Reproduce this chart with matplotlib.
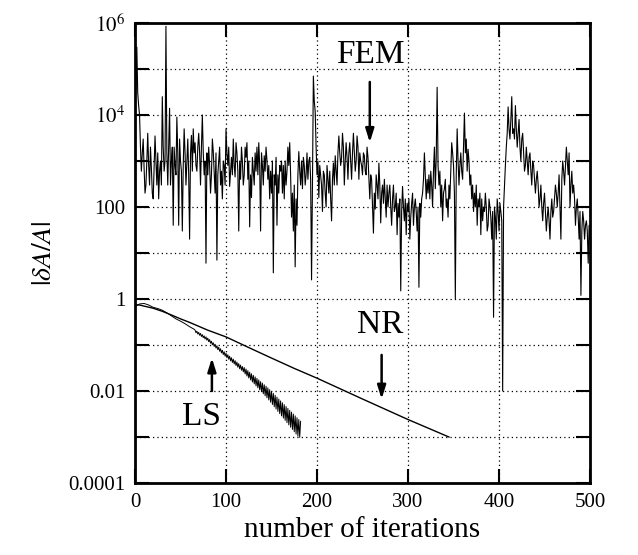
import matplotlib
matplotlib.use("Agg")
import matplotlib.pyplot as plt
from matplotlib.ticker import NullLocator
import numpy as np

plt.rcParams['font.family'] = ['Liberation Serif', 'DejaVu Serif']
plt.rcParams['mathtext.fontset'] = 'stix'

# FEM: |dA/A| at every iteration (0..500)
fem_iter = np.arange(0, 501)
fem_val = [
    2e4, 4e4, 3e5, 3e4, 1.6e4, 1e4, 2e3, 6e2, 1.5e3, 3e3, 7e2, 2e2, 3e2, 1e3, 4e3, 8e2, 3e2, 2e3, 7e2, 2e2,              # 0
    1.5e2, 8e2, 3.5e3, 1e3, 3e2, 1.5e3, 1.5e2, 6e2, 1e3, 3e2, 2.5e4, 2e3, 6e2, 1e3, 8.5e5, 1.5e3, 3e2, 2e3, 1.4e4, 3e2,  # 20
    1e3, 2e3, 4e1, 2e3, 8e2, 5e2, 9e3, 1.5e3, 4e1, 3e3, 1e3, 6e2, 3e1, 8e2, 5e3, 1.5e3, 3e2, 1e3, 3e3, 5e2,              # 40
    2e1, 1.5e3, 3.6e3, 6e2, 5e3, 1.5e3, 2.5e3, 8e2, 6e2, 2e3, 4e3, 1.5e3, 3e2, 2e3, 1e4, 1.5e3, 5e2, 1e3, 6, 1.5e3,      # 60
    5e2, 2e3, 8e2, 2e2, 5e2, 3e3, 1.6e3, 6e2, 2e2, 1.5e3, 7, 5e2, 1e3, 2e3, 3e2, 6e2, 1.5e2, 1e3, 8e2, 3e2,              # 80
    5e3, 1.5e3, 8e2, 2e3, 2.8e2, 6e2, 1.2e3, 5e2, 3e3, 8e2, 4.5e2, 2.5e3, 1.5e3, 6e2, 3e1, 1e3, 4e2, 2e3, 1e3, 3e2,      # 100
    5e2, 2e3, 1.2e3, 2.5e3, 4e2, 1e3, 3.7e1, 5e2, 1.6e2, 1.2e3, 6e2, 3e2, 1.5e3, 6e2, 2e3, 5e2, 2.5e3, 8e2, 3e1, 1.5e3,  # 120
    8e2, 3e2, 1.3e3, 6e2, 2e3, 1e3, 4e2, 8e2, 1.5e2, 6e2, 2e2, 1e3, 3.7, 5e2, 3e2, 1.2e3, 4e1, 5e2, 2e2, 8e2,            # 140
    6e2, 1e3, 2e2, 8e2, 1.5e2, 1e3, 3e2, 6e2, 2e3, 8e2, 2.5e3, 5e2, 6e1, 2e2, 3e1, 3e2, 5, 1.5e2, 4e1, 5e2,              # 160
    1.6e3, 6e2, 3e2, 1e3, 2.5e2, 1.2e3, 8e2, 3e2, 5e2, 1.5e3, 4e2, 1e3, 1.2e3, 4e2, 2.6, 3e2, 7e4, 2e4, 1.2e4, 2e3,      # 180
    5e2, 1e3, 1.6e2, 8e2, 5e2, 3e2, 8e1, 6e2, 5e2, 2e2, 1e2, 8e2, 4e2, 2e2, 6e2, 1.5e2, 5e1, 4e2, 9e2, 3e2,              # 200
    1.3e3, 6e2, 3e2, 1.5e3, 3.5e3, 1.5e3, 8e2, 1.2e3, 4e3, 2e3, 3e2, 1e3, 2.5e3, 1.2e3, 4e2, 1.5e3, 2.5e3, 1e3, 4e2, 1.5e3,  # 220
    4e3, 1.5e3, 6e2, 1e3, 3.5e3, 2e3, 4e2, 1.5e3, 1e3, 8e2, 5e2, 1.5e3, 1.3e3, 6e2, 5e2, 2e3, 1.2e3, 4e2, 1.5e2, 5e2,    # 240
    4e2, 1e2, 2.7e1, 2e2, 9e1, 5e2, 3e2, 1.5e2, 9e2, 3e2, 4.5e1, 2e2, 3e2, 1.2e2, 4e2, 1.5e2, 6e1, 3e2, 1e2, 2e2,        # 260
    3e2, 1e2, 4e1, 1.5e2, 3e2, 8e1, 1e2, 2e2, 2.5e1, 1.2e2, 6e1, 1.5e2, 1.5, 8e1, 2.8e2, 1e2, 5e1, 1.5e2, 2.5e1, 1.2e2,  # 280
    8e1, 1.5e2, 2e1, 6e1, 1.2e2, 2e2, 4e1, 1e2, 1.5e2, 8e1, 3e1, 1e2, 1.8, 1.2e2, 6e1, 1.5e2, 2e2, 4e2, 1.5e3, 5e2,      # 300
    1.5e2, 4e2, 2e2, 5e2, 1.5e2, 6e2, 3e2, 1e2, 6e2, 2e3, 2.5e2, 1.2e3, 4e4, 8e2, 3e2, 6e2, 1e2, 3e2, 5e1, 2e2,          # 320
    2.5e2, 4e2, 1e2, 1.5e2, 6e1, 3e2, 1.5e2, 6e2, 2.5e3, 1.5e3, 8e2, 2e2, 1, 5e2, 5e3, 1e3, 3e2, 8e2, 1.5e3, 6e2,        # 340
    4e2, 2e3, 1.1e4, 1.5e3, 3e3, 6e2, 1.8e3, 1e3, 3e2, 5e2, 1.5e2, 3e2, 8e1, 2e2, 1e2, 3e2, 4e1, 1.5e2, 1e2, 2e2,        # 360
    2.5e1, 1.5e2, 5e1, 1e2, 8e1, 2e2, 1e2, 3e1, 4e1, 1.5e2, 1e2, 6e1, 2e1, 8e1, 0.4, 1e2, 6e1, 2e1, 1.5e2, 8e1,          # 380
    3e1, 1.2e2, 8e1, 5e1, 1e-2, 1e2, 3e2, 8e2, 2e3, 4e3, 1.5e4, 5e3, 3e3, 8e3, 2.5e4, 4e3, 5e3, 3e3, 1.6e4, 5e3,         # 400
    2e3, 4e3, 8e3, 2e3, 1e3, 3e3, 4e3, 1.5e3, 6e2, 8e2, 2e3, 1e3, 5e2, 1.2e3, 1.5e3, 6e2, 3e2, 1e3, 8e2, 4e2,            # 420
    2e2, 4e2, 6e2, 3e2, 1e2, 1.5e2, 3e2, 1e2, 5e1, 1.2e2, 2e2, 8e1, 3e1, 6e1, 1e2, 5e1, 2e1, 8e1, 1.5e2, 6e1,            # 440
    8e1, 1.5e2, 3e2, 2e2, 1e2, 2e2, 5e2, 1e2, 2e1, 4e2, 1e3, 6e2, 3e2, 8e2, 2e3, 1e3, 5e2, 1.5e3, 1e2, 3e2,              # 460
    6e2, 2e2, 3e2, 1.5e2, 4e1, 1e2, 1.5e2, 6e1, 2e1, 8e1, 1.2, 3e1, 8e1, 5e1, 2e1, 4e1, 5e1, 3e1, 6, 4e1,                # 480
    2e1,                                                                                                                 # 500
]

# Newton-Raphson
nr_iter = [0, 5, 10, 20, 30, 40, 50, 60, 80, 100, 125, 150, 175, 200, 250, 300, 345]
nr_val = [0.75, 0.74, 0.7, 0.63, 0.54, 0.45, 0.37, 0.31, 0.21, 0.15,
          0.088, 0.052, 0.031, 0.019, 0.0067, 0.0024, 0.001]

# line search (oscillating from ~65 on)
ls_iter = list(range(0, 66, 5)) + list(range(66, 183))
ls_val = [
    0.68, 0.78, 0.8, 0.74, 0.66, 0.62, 0.57, 0.5, 0.43, 0.37, 0.33, 0.29, 0.25, 0.22,
    0.211, 0.185, 0.20, 0.173, 0.188, 0.163, 0.178, 0.153, 0.168, 0.144,
    0.158, 0.135, 0.150, 0.127, 0.141, 0.118, 0.131, 0.109, 0.121, 0.101,
    0.112, 0.093, 0.104, 0.0857, 0.0966, 0.0791, 0.0895, 0.0730, 0.0830, 0.0673,
    0.0769, 0.0621, 0.0713, 0.0573, 0.0661, 0.0528, 0.0614, 0.049, 0.057, 0.0452,
    0.053, 0.0418, 0.0492, 0.0387, 0.0457, 0.0357, 0.0425, 0.033, 0.0394, 0.0305,
    0.0366, 0.0283, 0.034, 0.0261, 0.0324, 0.0234, 0.030, 0.0211, 0.0277, 0.0192,
    0.0256, 0.0174, 0.0237, 0.0157, 0.0219, 0.0143, 0.0203, 0.0129, 0.0188, 0.0117,
    0.0174, 0.0106, 0.016, 0.0096, 0.0149, 0.0087, 0.0137, 0.00785, 0.0127, 0.00711,
    0.0117, 0.00638, 0.0107, 0.0057, 0.00975, 0.00508, 0.00887, 0.00454, 0.00807, 0.00406,
    0.00735, 0.00361, 0.0067, 0.00323, 0.0061, 0.00288, 0.00555, 0.00258, 0.00506, 0.0023,
    0.0046, 0.00205, 0.00419, 0.00183, 0.00381, 0.00163, 0.00348, 0.00146, 0.00316, 0.0013,
    0.00288, 0.00116, 0.00263, 0.00104, 0.0024, 0.00098, 0.0022,
]

ytick_vals = [1e-4, 1e-3, 1e-2, 1e-1, 1, 10, 100, 1e3, 1e4, 1e5, 1e6]
ytick_text = ['0.0001', '', '0.01', '', '1', '', '100', '', r'$10^4$', '', r'$10^6$']
xtick_vals = [0, 100, 200, 300, 400, 500]

fig = plt.figure(figsize=(6.38, 5.55), dpi=100)
ax = fig.add_axes([0.2116, 0.1297, 0.7132, 0.8289])

ax.plot(fem_iter, fem_val, color='k', lw=0.8)
ax.plot(nr_iter, nr_val, color='k', lw=1.0)
ax.plot(ls_iter, ls_val, color='k', lw=0.7)

ax.set_yscale('log')
ax.set_xlim(0, 500)
ax.set_ylim(1e-4, 1e6)
ax.set_yticks(ytick_vals)
ax.set_yticklabels(ytick_text)
ax.yaxis.set_minor_locator(NullLocator())
ax.set_xticks(xtick_vals)

ax.tick_params(direction='in', length=10, width=1.5, top=True, right=True,
               labelsize=15, pad=7)
ax.grid(True, color='k', lw=0.9, ls=(0, (1, 2.5)))
for s in ax.spines.values():
    s.set_linewidth(2)

arrow = dict(arrowstyle='-|>,head_length=0.8,head_width=0.25', lw=1.8, color='k')
ax.text(259, 2e5, 'FEM', ha='center', va='center', fontsize=24)
ax.annotate('', xy=(258, 2.2e3), xytext=(258, 6e4), arrowprops=arrow)
ax.text(269, 0.27, 'NR', ha='center', va='center', fontsize=24)
ax.annotate('', xy=(271, 0.0058), xytext=(271, 0.07), arrowprops=arrow)
ax.text(73, 0.0028, 'LS', ha='center', va='center', fontsize=24)
ax.annotate('', xy=(84.5, 0.06), xytext=(84.5, 0.0087), arrowprops=arrow)

ax.set_xlabel('number of iterations', fontsize=21, labelpad=4)
ax.set_ylabel(r'$|\delta A/A|$', fontsize=20, labelpad=8)

plt.savefig('out.png', dpi=100)
